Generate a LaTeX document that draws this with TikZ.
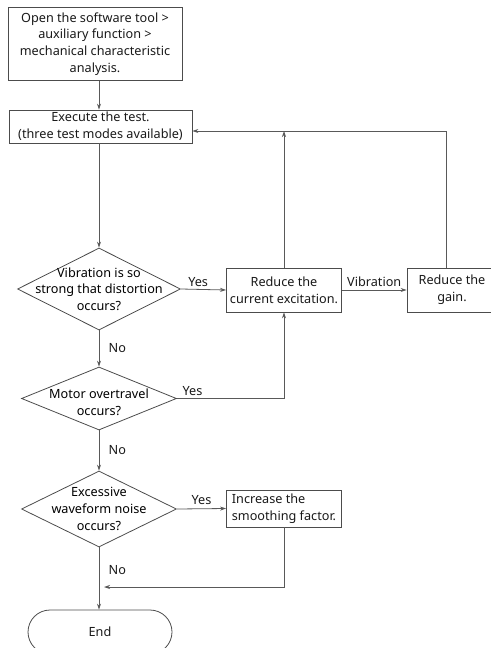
\documentclass[tikz,border=0pt]{standalone}
\usepackage{fontspec}
\setmainfont{Noto Sans}
\usepackage{tikz}
\usetikzlibrary{arrows.meta,shapes.geometric,shapes.misc}

\tikzset{
  flow/.style={draw=black!70, line width=0.6pt, text=black!90},
  box/.style={flow, rectangle, inner sep=0pt, align=center},
  decision/.style={flow, diamond, inner sep=0pt},
  terminal/.style={flow, rounded rectangle, inner sep=0pt},
  arr/.style={draw=black!65, line width=0.6pt, -{Stealth[length=4.5pt,width=3pt]}},
  line/.style={draw=black!65, line width=0.6pt},
  tag/.style={text=black!90, inner sep=0pt}
}

\begin{document}
\begin{tikzpicture}[x=0.75pt, y=-0.75pt, font=\fontsize{9.5}{12.5}\selectfont]
    \useasboundingbox (0,0) rectangle (490,648);

    % process boxes
    \node[box, minimum width=130.5pt, minimum height=54.75pt] (open) at (95,44)
        {Open the software tool >\\auxiliary function >\\mechanical characteristic\\analysis.};
    \node[box, minimum width=137.25pt, minimum height=24.75pt] (exec) at (100.5,126.5)
        {Execute the test.\\(three test modes available)};
    \node[box, minimum width=86.25pt, minimum height=33pt] (excite) at (284,290)
        {Reduce the\\current excitation.};
    \node[box, minimum width=67.5pt, minimum height=33pt] (gain) at (452,290)
        {Reduce the\\gain.};
    \node[box, align=left, minimum width=86.25pt, minimum height=27.75pt] (smooth) at (284,508.5)
        {\textbf{I}ncrease the\\smoothing factor.};

    % decisions
    \node[decision, minimum width=122.25pt, minimum height=61.5pt,
          label={[align=center]center:Vibration is so\\strong that distortion\\occurs?}] (vib) at (99,289) {};
    \node[decision, minimum width=116.25pt, minimum height=47.25pt,
          label={[align=center, yshift=-3pt]center:Motor overtravel\\occurs?}] (travel) at (99,398.5) {};
    \node[decision, minimum width=116.25pt, minimum height=57pt,
          label={[align=center]center:Excessive\\waveform noise\\occurs?}] (noise) at (99,509) {};

    \node[terminal, minimum width=108pt, minimum height=33pt] (end) at (100,632) {End};

    % main flow
    \draw[arr] (open.south -| vib) -- (exec.north -| vib);
    \draw[arr] (exec.south -| vib) -- (vib);
    \draw[arr] (vib) -- node[tag, right, xshift=7pt] (no1) {No} (travel);
    \draw[arr] (travel) -- node[tag, right, xshift=7pt] (no2) {No} (noise);
    \draw[arr] (noise) -- node[tag, right, xshift=7pt, yshift=6pt] (no3) {No} (noise |- end.north);

    % yes branches
    \draw[arr] (vib.east) -- node[tag, above, xshift=-4pt, yshift=2pt] (yes1) {Yes} (excite.west);
    \draw[arr] (excite.east) -- node[tag, above, yshift=2pt] (vibr) {Vibration} (gain.west);
    \draw[arr] (travel.east) node[tag, above right, xshift=4pt, yshift=2pt] (yes2) {Yes} -| (excite.south);
    \draw[arr] (noise.east) -- node[tag, above, yshift=3pt] (yes3) {Yes} (smooth.west);

    % back to the test
    \coordinate (back) at (446,131);
    \draw[line] (gain.north -| back) -- (back);
    \draw[arr] (back) -- (exec.east |- back);
    \draw[arr] (excite.north) -- (excite.north |- back);

    % smoothing rejoins the main line
    \coordinate (merge) at (104,587);
    \draw[arr] (smooth.south) |- (merge);
\end{tikzpicture}
\end{document}
